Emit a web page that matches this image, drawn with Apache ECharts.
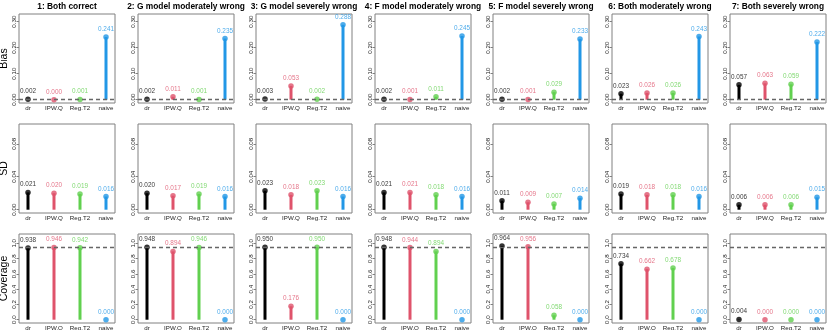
<!DOCTYPE html>
<html><head><meta charset="utf-8">
<script src="https://cdn.jsdelivr.net/npm/echarts@6/dist/echarts.min.js"></script>
<style>html,body{margin:0;padding:0;background:#fff}#c{width:830px;height:330px}</style>
</head><body><div id="c"></div>
<script>
// ---- data ----
const methods = ['dr', 'IPW.Q', 'Reg.T2', 'naive'];
const scenarios = ['1: Both correct', '2: G model moderately wrong', '3: G model severely wrong',
  '4: F model moderately wrong', '5: F model severely wrong', '6: Both moderately wrong', '7: Both severely wrong'];
const metricNames = ['Bias', 'SD', 'Coverage'];
// values per scenario: [dr, IPW.Q, Reg.T2, naive]
const bias = [
  [0.002, 0.000, 0.001, 0.241],
  [0.002, 0.011, 0.001, 0.235],
  [0.003, 0.053, 0.002, 0.288],
  [0.002, 0.001, 0.011, 0.245],
  [0.002, 0.001, 0.029, 0.233],
  [0.023, 0.026, 0.026, 0.243],
  [0.057, 0.063, 0.059, 0.222]
];
const sd = [
  [0.021, 0.020, 0.019, 0.016],
  [0.020, 0.017, 0.019, 0.016],
  [0.023, 0.018, 0.023, 0.016],
  [0.021, 0.021, 0.018, 0.016],
  [0.011, 0.009, 0.007, 0.014],
  [0.019, 0.018, 0.018, 0.016],
  [0.006, 0.006, 0.006, 0.015]
];
const coverage = [
  [0.938, 0.946, 0.942, 0.000],
  [0.948, 0.894, 0.946, 0.000],
  [0.950, 0.176, 0.950, 0.000],
  [0.948, 0.944, 0.894, 0.000],
  [0.964, 0.956, 0.058, 0.000],
  [0.734, 0.662, 0.678, 0.000],
  [0.004, 0.000, 0.000, 0.000]
];
const biasTicks = [0, 0.1, 0.2, 0.3];
const sdTicks = [0, 0.04, 0.08];
const covTicks = [0, 0.2, 0.4, 0.6, 0.8, 1.0];
const refLines = [0, null, 0.95];

// ---- styling / layout ----
const colors = ['#000000', '#DF536B', '#61D04F', '#2297E6'];
const FONT = '"Liberation Sans", Arial, Helvetica, sans-serif';
const metrics = [bias, sd, coverage];
const ticks = [biasTicks, sdTicks, covTicks];
const tickDigits = [2, 2, 1];
const yRanges = [[-0.0127, 0.3295], [-0.004, 0.104], [-0.043, 1.122]];
const figW = 830 / 7, figH = 110;
const plotL = 19, plotT = 14, plotW = 96, plotH = 89;

const grid = [], xAxis = [], yAxis = [], series = [], graphic = [];
let k = 0;
for (let r = 0; r < 3; r++) {
  for (let c = 0; c < 7; c++) {
    const left = Math.round(figW * c + plotL);
    const top = figH * r + plotT;
    grid.push({left: left, top: top, width: plotW, height: plotH, show: true,
      borderColor: '#808080', borderWidth: 1, backgroundColor: 'transparent', outerBoundsMode: 'none'});
    xAxis.push({type: 'value', gridIndex: k, min: 0.654, max: 4.346,
      axisLine: {show: false}, axisTick: {show: false}, splitLine: {show: false},
      axisLabel: {customValues: [1, 2, 3, 4], formatter: v => methods[Math.round(v) - 1],
        fontSize: 6.2, margin: 2, color: '#222', fontFamily: FONT}});
    const dg = tickDigits[r];
    yAxis.push({type: 'value', gridIndex: k, min: yRanges[r][0], max: yRanges[r][1],
      name: c === 0 ? metricNames[r] : '', nameLocation: 'middle', nameGap: 8.5, nameRotate: 90,
      nameTextStyle: {fontSize: 10.5, color: '#000', fontFamily: FONT},
      axisLine: {show: false}, splitLine: {show: false},
      axisTick: {show: true, customValues: ticks[r], length: 2.5, lineStyle: {color: '#808080'}},
      axisLabel: {customValues: ticks[r], rotate: 90, fontSize: 6.2, margin: 2, color: '#222',
        fontFamily: FONT, formatter: v => v.toFixed(dg)}});
    const vals = metrics[r][c];
    series.push({type: 'bar', xAxisIndex: k, yAxisIndex: k, barWidth: 3, silent: true, animation: false,
      data: vals.map((v, i) => ({value: [i + 1, v], itemStyle: {color: colors[i]}}))});
    const s = {type: 'scatter', xAxisIndex: k, yAxisIndex: k, symbolSize: 5.5, silent: true, animation: false, z: 3,
      data: vals.map((v, i) => ({value: [i + 1, v], itemStyle: {color: colors[i]},
        label: {color: colors[i]}})),
      label: {show: true, position: 'top', distance: 2, fontSize: 6.4, fontFamily: FONT,
        formatter: p => p.value[1].toFixed(3)}};
    if (refLines[r] !== null) {
      s.markLine = {silent: true, symbol: ['none', 'none'], animation: false, label: {show: false},
        lineStyle: {type: [4, 3], color: '#666', width: 1.3}, data: [{yAxis: refLines[r]}]};
    }
    series.push(s);
    if (r === 0) {
      graphic.push({type: 'text', x: left + plotW / 2, y: 6.5,
        style: {text: scenarios[c], font: 'bold 8.4px ' + FONT, fill: '#000',
          textAlign: 'center', textVerticalAlign: 'middle'}});
    }
    k++;
  }
}

const chart = echarts.init(document.getElementById('c'), null, {renderer: 'canvas'});
chart.setOption({animation: false, textStyle: {fontFamily: FONT}, grid, xAxis, yAxis, series, graphic});
</script></body></html>
